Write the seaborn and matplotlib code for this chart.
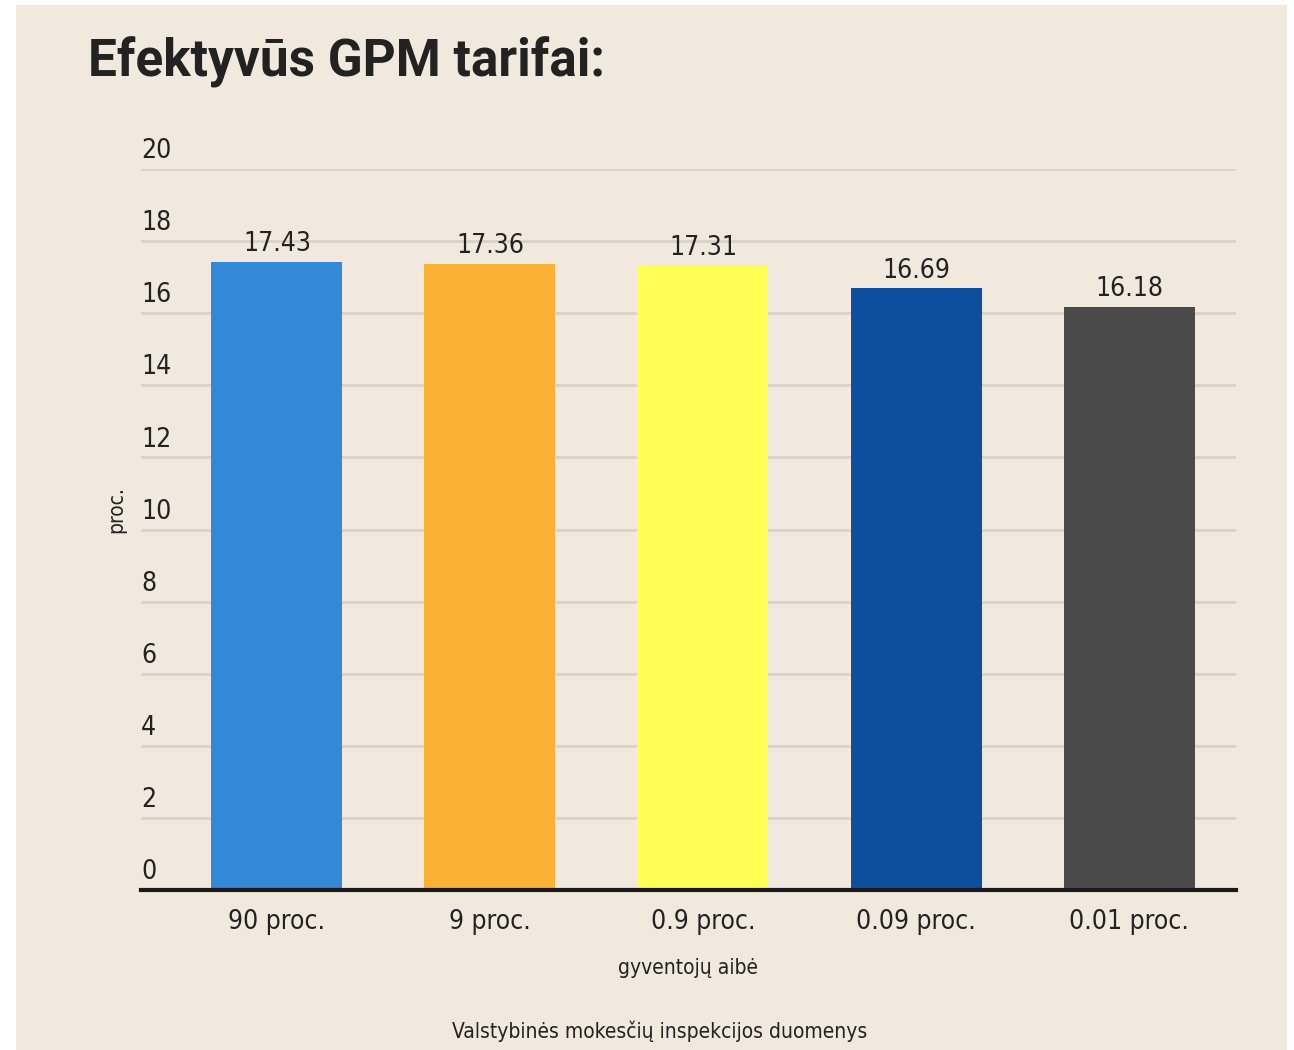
import matplotlib
matplotlib.use("Agg")
import matplotlib.pyplot as plt
import seaborn as sns
import pandas as pd

categories = ["90 proc.", "9 proc.", "0.9 proc.", "0.09 proc.", "0.01 proc."]
values = [17.43, 17.36, 17.31, 16.69, 16.18]
value_labels = ["17.43", "17.36", "17.31", "16.69", "16.18"]
colors = ["#3388D8", "#FBB133", "#FFFF55", "#0D4F9E", "#4A4A4A"]
yticks = [0, 2, 4, 6, 8, 10, 12, 14, 16, 18, 20]

title = "Efektyvūs GPM tarifai:"
xlabel = "gyventojų aibė"
ylabel = "proc."
source = "Valstybinės mokesčių inspekcijos duomenys"

BG = "#F2E9DE"
sns.set_theme(style="white")
plt.rcParams["font.family"] = ["DejaVu Sans"]
plt.rcParams["font.stretch"] = "condensed"

df = pd.DataFrame({"cat": categories, "val": values})

W, H = 1294, 1050
fig = plt.figure(figsize=(W / 100, H / 100), dpi=100)
fig.patch.set_facecolor("white")
fig.patches.append(plt.Rectangle((16 / W, 0), (1287 - 16) / W, (H - 5) / H,
                                 transform=fig.transFigure, facecolor=BG,
                                 edgecolor="none", zorder=-10))

ax = fig.add_axes([141 / W, (H - 890) / H, (1236 - 141) / W, (890 - 169) / H])
ax.set_zorder(1)
ax.patch.set_alpha(0)

sns.barplot(data=df, x="cat", y="val", hue="cat", palette=colors, legend=False,
            width=0.615, saturation=1, linewidth=0, edgecolor="none",
            ax=ax, zorder=3)

ax.set_ylim(0, 20)
ax.set_xlim(-0.638, 4.502)
ax.set_yticks(yticks)
ax.set_yticklabels([])
ax.tick_params(axis="y", length=0)
ax.tick_params(axis="x", length=0, pad=14, labelsize=19, labelcolor="#222222")
for y in yticks:
    if y > 0:
        ax.axhline(y, color="#DAD2C8", lw=2, zorder=1)
    ax.text(0, y + 0.3, str(y), transform=ax.get_yaxis_transform(), ha="left",
            va="baseline", fontsize=19, color="#222222")

for sp in ["top", "right", "left"]:
    ax.spines[sp].set_visible(False)
ax.spines["bottom"].set_color("#1a1a1a")
ax.spines["bottom"].set_linewidth(3)
ax.spines["bottom"].set_zorder(5)

for i, (v, lab) in enumerate(zip(values, value_labels)):
    ax.text(i, v + 0.3, lab, ha="center", va="baseline", fontsize=19,
            color="#222222", zorder=6)

ax.set_xlabel(xlabel, fontsize=15, color="#222222", labelpad=16)
ax.set_ylabel("")
fig.text(116 / W, 1 - 510 / H, ylabel, rotation=90, ha="center", va="center",
         fontsize=15, color="#222222")

fig.text(88 / W, 1 - 62 / H, title, ha="left", va="center", fontsize=37,
         fontweight="bold", family=["Roboto", "DejaVu Sans"],
         fontstretch="normal", color="#222222")
fig.text(660 / W, 1 - 1031 / H, source, ha="center", va="center", fontsize=15,
         color="#222222")

fig.savefig("out.png", dpi=100, facecolor=fig.get_facecolor())
